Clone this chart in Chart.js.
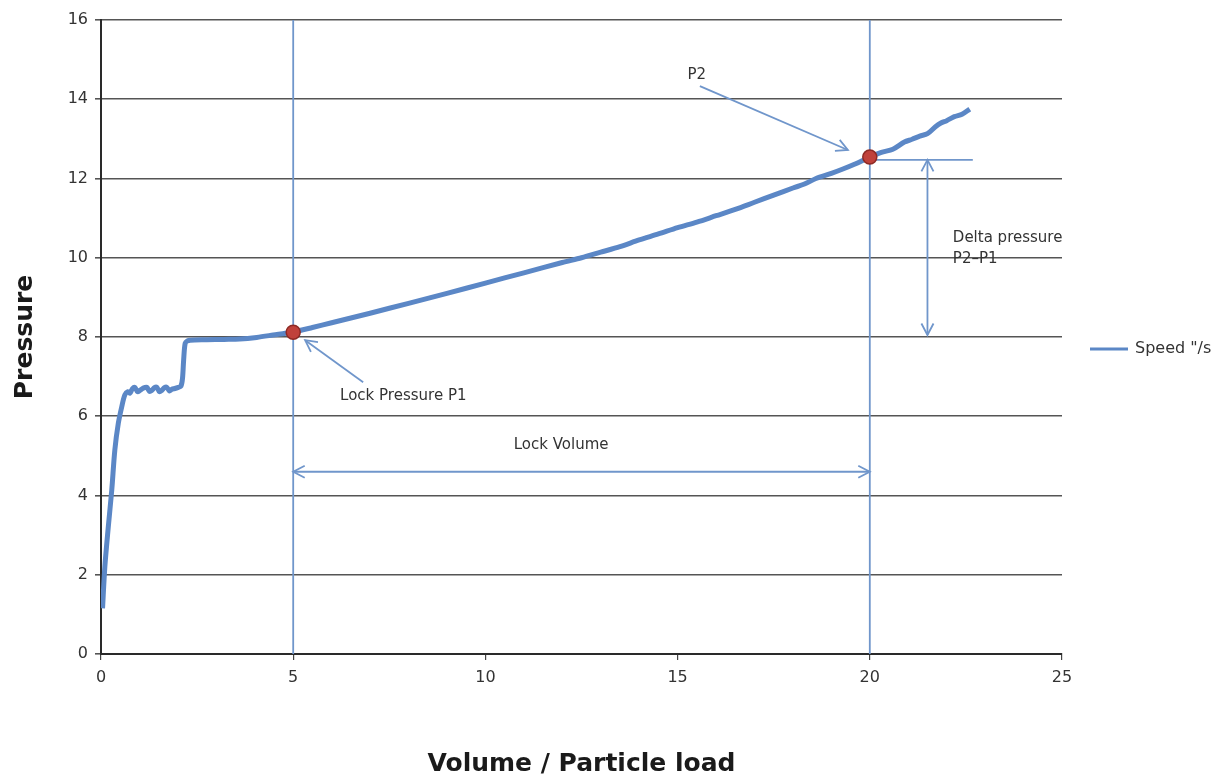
<!DOCTYPE html>
<html>
<head>
<meta charset="utf-8">
<script src="https://cdn.jsdelivr.net/npm/chart.js@4/dist/chart.umd.min.js"></script>
<style>
  html, body { margin: 0; padding: 0; background: #ffffff; }
  #wrap { width: 1216px; height: 779px; }
</style>
</head>
<body>
<div id="wrap"><canvas id="c" width="1216" height="779"></canvas></div>
<script>
// ---- data ----
const seriesName = 'Speed "/s';
const volume = [0.04, 0.10, 0.19, 0.28, 0.36, 0.45, 0.54, 0.62, 0.70, 0.75, 0.82, 0.88, 0.95, 1.01, 1.10, 1.19, 1.26, 1.32, 1.39, 1.45, 1.52, 1.58, 1.65, 1.71, 1.78, 1.84, 1.92, 2.01, 2.08, 2.12, 2.15, 2.19, 2.25, 2.32, 2.75, 3.2, 3.61, 4.05, 4.48, 4.96,
  5.5, 6, 7, 8, 9, 10, 11, 12, 12.5, 13, 13.5, 14, 14.5, 15, 15.5, 16, 16.5, 17, 17.5, 18, 18.3, 18.6, 19, 19.3, 19.6, 20,
  20.3, 20.6, 20.9, 21.1, 21.3, 21.5, 21.7, 21.85, 22.0, 22.2, 22.4, 22.6];
const pressure = [1.15, 2.2, 3.21, 4.14, 5.15, 5.82, 6.24, 6.54, 6.62, 6.58, 6.70, 6.73, 6.62, 6.65, 6.71, 6.73, 6.63, 6.65, 6.72, 6.73, 6.62, 6.65, 6.72, 6.73, 6.64, 6.68, 6.70, 6.73, 6.76, 6.95, 7.42, 7.84, 7.90, 7.92, 7.93, 7.94, 7.95, 7.99, 8.05, 8.12,
  8.24, 8.36, 8.60, 8.85, 9.10, 9.36, 9.62, 9.88, 10.0, 10.14, 10.28, 10.45, 10.60, 10.76, 10.90, 11.06, 11.22, 11.40, 11.58, 11.76, 11.86, 12.0, 12.13, 12.24, 12.36, 12.54,
  12.66, 12.74, 12.92, 12.99, 13.07, 13.13, 13.30, 13.40, 13.46, 13.56, 13.62, 13.75];
const lockVolume = [5, 20];          // P1, P2 volumes
const lockPressure = [8.12, 12.54];  // P1, P2 pressures
const xTicks = [0, 5, 10, 15, 20, 25];
const yTicks = [0, 2, 4, 6, 8, 10, 12, 14, 16];
const xTitle = 'Volume / Particle load';
const yTitle = 'Pressure';
// annotation geometry in data units
const lockVolumeArrowY = 4.6;
const deltaArrowX = 21.5;
const deltaArrowY = [12.47, 8.05];
const p2LineX = [20, 22.68];
const p1Arrow = [[6.82, 6.86], [5.31, 7.92]];
const p2Arrow = [[15.58, 14.33], [19.43, 12.72]];
const labels = [
  { text: 'Lock Pressure P1', x: 6.22, y: 6.51, align: 'left' },
  { text: 'Lock Volume', x: 11.97, y: 5.27, align: 'center' },
  { text: 'P2', x: 15.5, y: 14.61, align: 'center' },
  { text: 'Delta pressure', x: 22.16, y: 10.5, align: 'left' },
  { text: 'P2\u2013P1', x: 22.16, y: 9.97, align: 'left' }
];

const lineColor = '#5b87c6';
const annColor = '#7096cb';
const textColor = '#333333';
const fontFam = '"DejaVu Sans", Verdana, sans-serif';

function arrowHead(ctx, x1, y1, x2, y2, len) {
  const a = Math.atan2(y2 - y1, x2 - x1);
  const s = Math.PI / 6.5;
  ctx.beginPath();
  ctx.moveTo(x2 - len * Math.cos(a - s), y2 - len * Math.sin(a - s));
  ctx.lineTo(x2, y2);
  ctx.lineTo(x2 - len * Math.cos(a + s), y2 - len * Math.sin(a + s));
  ctx.stroke();
}
function arrowLine(ctx, x1, y1, x2, y2, both) {
  ctx.beginPath(); ctx.moveTo(x1, y1); ctx.lineTo(x2, y2); ctx.stroke();
  arrowHead(ctx, x1, y1, x2, y2, 13);
  if (both) arrowHead(ctx, x2, y2, x1, y1, 13);
}

const annotationPlugin = {
  id: 'ann',
  beforeDatasetsDraw(chart) {
    const { ctx, chartArea: ca, scales: { x, y } } = chart;
    ctx.save();
    ctx.strokeStyle = annColor;
    ctx.lineWidth = 1.8;
    // vertical marker lines
    lockVolume.forEach(v => {
      const px = x.getPixelForValue(v);
      ctx.beginPath(); ctx.moveTo(px, ca.top); ctx.lineTo(px, ca.bottom); ctx.stroke();
    });
    // P2 horizontal reference
    const hy = y.getPixelForValue(deltaArrowY[0]);
    ctx.beginPath(); ctx.moveTo(x.getPixelForValue(p2LineX[0]), hy); ctx.lineTo(x.getPixelForValue(p2LineX[1]), hy); ctx.stroke();
    // lock volume double arrow
    const ly = y.getPixelForValue(lockVolumeArrowY);
    arrowLine(ctx, x.getPixelForValue(lockVolume[0]), ly, x.getPixelForValue(lockVolume[1]), ly, true);
    // delta pressure double arrow
    const dx = x.getPixelForValue(deltaArrowX);
    arrowLine(ctx, dx, y.getPixelForValue(deltaArrowY[0]), dx, y.getPixelForValue(deltaArrowY[1]), true);
    // pointer arrows
    [p1Arrow, p2Arrow].forEach(a => {
      arrowLine(ctx, x.getPixelForValue(a[0][0]), y.getPixelForValue(a[0][1]),
                x.getPixelForValue(a[1][0]), y.getPixelForValue(a[1][1]), false);
    });
    // text
    ctx.fillStyle = textColor;
    ctx.font = '15px ' + fontFam;
    ctx.textBaseline = 'middle';
    labels.forEach(l => {
      ctx.textAlign = l.align;
      ctx.fillText(l.text, x.getPixelForValue(l.x), y.getPixelForValue(l.y));
    });
    ctx.restore();
  },
  afterDraw(chart) {
    // legend on the right
    const { ctx, chartArea: ca } = chart;
    ctx.save();
    const ly = (ca.top + ca.bottom) / 2 + 12;
    ctx.strokeStyle = lineColor;
    ctx.lineWidth = 3;
    ctx.beginPath(); ctx.moveTo(ca.right + 28, ly); ctx.lineTo(ca.right + 66, ly); ctx.stroke();
    ctx.fillStyle = textColor;
    ctx.font = '16px ' + fontFam;
    ctx.textAlign = 'left';
    ctx.textBaseline = 'middle';
    ctx.fillText(seriesName, ca.right + 73, ly);
    ctx.restore();
  }
};

new Chart(document.getElementById('c'), {
  type: 'scatter',
  data: {
    datasets: [
      {
        label: seriesName,
        data: volume.map((v, i) => ({ x: v, y: pressure[i] })),
        showLine: true,
        borderColor: lineColor,
        borderWidth: 5,
        pointRadius: 0,
        tension: 0.3,
        order: 2
      },
      {
        label: 'Lock points',
        data: lockVolume.map((v, i) => ({ x: v, y: lockPressure[i] })),
        showLine: false,
        pointRadius: 7,
        pointBackgroundColor: '#c0413b',
        pointBorderColor: '#8e2a25',
        pointBorderWidth: 1.5,
        order: 1
      }
    ]
  },
  options: {
    responsive: false,
    animation: false,
    layout: { padding: { top: 20, right: 154, left: 0, bottom: 0 } },
    plugins: { legend: { display: false }, tooltip: { enabled: false } },
    scales: {
      x: {
        type: 'linear', min: 0, max: 25,
        afterBuildTicks: s => { s.ticks = xTicks.map(v => ({ value: v })); },
        afterFit: s => { s.height = 125; },
        grid: { drawOnChartArea: false, drawTicks: true, tickLength: 6, color: '#444', lineWidth: 1.2 },
        border: { color: '#2a2a2a', width: 2 },
        ticks: { color: textColor, font: { family: fontFam, size: 16 }, padding: 8 },
        title: { display: true, text: xTitle, color: '#1a1a1a', font: { family: fontFam, size: 25, weight: 'bold', lineHeight: 1.2 }, padding: { top: 0, bottom: 0 } }
      },
      y: {
        type: 'linear', min: 0, max: 16,
        afterBuildTicks: s => { s.ticks = yTicks.map(v => ({ value: v })); },
        afterFit: s => { s.width = 101; },
        grid: { color: '#555555', lineWidth: 1.6, tickLength: 6 },
        border: { color: '#2a2a2a', width: 2 },
        ticks: { color: textColor, font: { family: fontFam, size: 16 }, padding: 7 },
        title: { display: true, text: yTitle, color: '#1a1a1a', font: { family: fontFam, size: 25, weight: 'bold', lineHeight: 1.2 }, padding: { top: 10, bottom: 0 } }
      }
    }
  },
  plugins: [annotationPlugin]
});
</script>
</body>
</html>
